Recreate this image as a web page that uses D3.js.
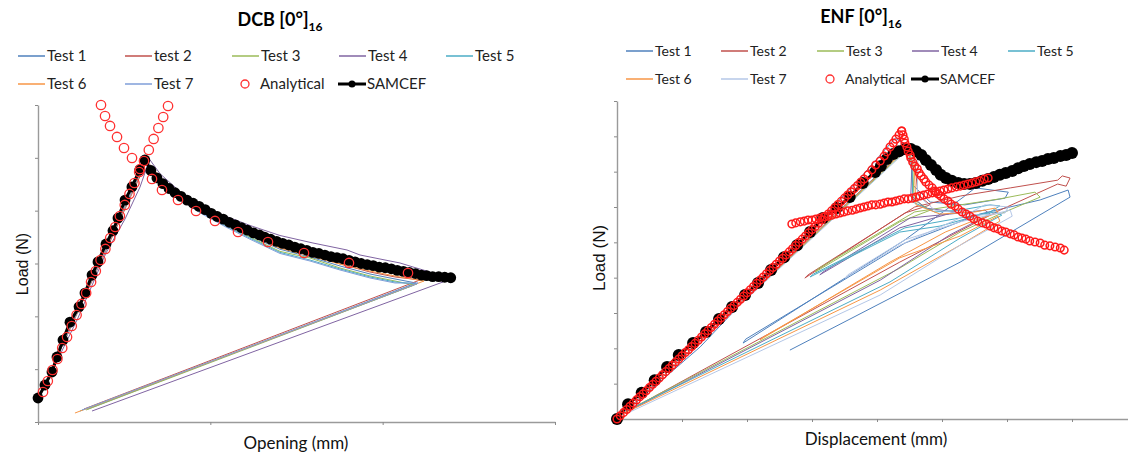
<!DOCTYPE html>
<html><head><meta charset="utf-8">
<script src="https://cdn.jsdelivr.net/npm/d3@7"></script>
<style>body{margin:0;background:#fff}svg{display:block}</style>
</head><body>
<svg id="c" width="1128" height="452"></svg>
<script>
// ---------------- DATA ----------------
const dcbLabels = ["Test 1","test 2","Test 3","Test 4","Test 5","Test 6","Test 7"];
const enfLabels = ["Test 1","Test 2","Test 3","Test 4","Test 5","Test 6","Test 7"];
const dcbXTicks = [0,20,40,60];
const dcbYTicks = [0,10,20,30,40,50,60];
const enfXTicks = [0,1,2,3,4,5,6,7,8];
const enfYTicks = [0,100,200,300,400,500,600,700,800,900];

// DCB: opening (mm), load (N)
const dcbTest1 = [[0,4.35],[12.53,49.59],[14.16,46.19],[16.48,42.6],[18.80,40.2],[21.70,37.6],[24.60,35.2],[28.08,32.7],[31.57,31.23],[35.05,29.53],[38.53,28.01],[41.43,27.07],[43.87,26.31],[5.80,2.46]];
const dcbTest2 = [[0,4.35],[12.65,49.40],[14.16,46.37],[16.48,42.8],[18.80,40.4],[21.70,37.8],[24.60,35.6],[28.08,33.1],[31.57,31.61],[35.05,29.91],[38.53,28.39],[41.43,27.45],[44.33,26.88],[5.34,2.46]];
const dcbTest3 = [[0,4.35],[12.42,49.21],[14.16,46.00],[16.48,42.4],[18.80,40.0],[21.70,37.4],[24.60,35.0],[28.08,32.3],[31.57,31.04],[35.05,29.15],[38.53,27.64],[41.43,26.69],[43.63,25.93],[5.57,2.27]];
const dcbTest4 = [[0,4.16],[4.64,19.69],[7.89,31.99],[10.10,38.42],[11.84,44.48],[12.77,48.84],[13.0,49.59],[14.16,47.0],[16.48,43.6],[18.80,41.3],[21.70,39.0],[24.60,37.2],[28.08,35.3],[31.91,33.88],[35.86,32.56],[37.37,31.61],[39.69,30.85],[42.01,30.10],[43.52,29.34],[45.49,28.39],[47.00,26.50],[6.27,2.08]];
const dcbTest5 = [[0,4.35],[12.53,49.40],[14.16,46.19],[16.48,42.4],[18.80,39.8],[21.70,37.2],[24.60,34.8],[28.08,32.1],[31.57,30.66],[35.05,28.96],[38.53,27.45],[41.43,26.50],[43.98,26.12],[4.87,2.08]];
const dcbTest6 = [[0,4.35],[12.53,49.40],[14.16,46.37],[16.48,42.6],[18.80,40.2],[21.70,37.8],[24.60,35.4],[28.08,32.9],[31.57,31.42],[35.05,29.91],[38.53,28.58],[42.01,27.45],[44.80,26.69],[4.29,1.70]];
const dcbTest7 = [[0,4.35],[12.53,49.59],[14.16,46.00],[16.48,42.2],[18.80,39.6],[21.70,37.0],[24.60,34.6],[28.08,31.9],[31.57,30.47],[35.05,28.77],[38.53,27.26],[41.43,26.31],[44.10,26.31],[5.11,2.27]];
const dcbTests = [dcbTest1,dcbTest2,dcbTest3,dcbTest4,dcbTest5,dcbTest6,dcbTest7];

const dcbAnalytical = [[0.58,5.68],[1.14,7.76],[1.69,9.84],[2.25,11.92],[2.81,14.01],[3.37,16.09],[3.92,18.17],[4.48,20.25],[5.04,22.34],[5.59,24.42],[6.16,26.50],[6.71,28.58],[7.26,30.66],[7.82,32.75],[8.38,34.83],[8.96,36.91],[9.50,38.99],[10.07,41.08],[10.62,43.16],[11.19,45.24],[11.74,47.32],[12.30,49.40],[12.86,51.49],[13.42,53.57],[13.97,55.65],[14.53,57.73],[15.09,59.81],
  [7.31,60.0],[7.78,57.92],[8.36,56.03],[9.17,53.95],[9.98,51.86],[10.91,49.97],[11.84,47.89],[13.23,46.0],[14.39,43.91],[16.25,42.02],[18.34,39.94],[20.54,38.05],[23.21,35.96],[26.69,34.07],[30.87,31.99],[36.09,30.10],[42.94,28.20]];

const dcbSamcef = [[0,4.54],[0.81,7.0],[1.62,9.46],[2.2,12.3],[2.9,15.5],[3.71,18.9],[4.76,21.8],[5.45,24.4],[6.27,27.8],[6.96,30.3],[7.89,33.7],[8.7,36.2],[9.28,38.6],[10.1,42.0],[10.9,44.5],[11.8,47.7],
  [12.4,49.6],[13.1,47.6],[13.8,46.2],[14.5,45.1],[15.2,44.2],[15.9,43.4],[16.6,42.7],[17.3,42.0],[18.0,41.4],[18.7,40.8],[19.4,40.2],[20.1,39.5],[20.8,38.9],[21.5,38.4],[22.2,37.8],[22.9,37.3],[23.6,36.8],[24.3,36.3],[25.0,35.8],[25.7,35.4],[26.3,35.0],[27.0,34.6],[27.7,34.2],[28.4,33.8],[29.1,33.5],[29.8,33.1],[30.5,32.8],[31.2,32.5],[31.9,32.1],[32.6,31.9],[33.3,31.6],[34.0,31.3],[34.7,31.1],[35.4,30.9],[36.1,30.6],[36.8,30.3],[37.5,30.0],[38.2,29.8],[38.9,29.6],[39.6,29.3],[40.3,29.2],[41.0,29.0],[41.7,28.7],[42.4,28.5],[43.1,28.3],[43.8,28.1],[44.5,27.8],[45.1,27.7],[45.8,27.5],[46.5,27.5],[47.2,27.4],[47.9,27.3]];

// ENF: displacement (mm), load (N)
const enfTest1 = [[0,0],[1.28,204],[3.74,682],[4.28,795],[4.51,767],[4.55,662],[4.82,614],[5.35,606],[5.97,625],[6.02,642],[5.51,654],[5.35,631],[4.43,507],[1.94,215],[1.98,226],[4.43,498],[5.58,580],[6.51,620],[6.94,648],[6.97,628],[5.28,444],[2.66,195]];
const enfTest2 = [[0,0],[4.48,770],[4.58,733],[4.63,634],[4.82,606],[4.43,583],[2.89,399],[2.94,408],[4.58,600],[5.28,631],[6.05,654],[6.78,676],[6.85,688],[6.97,682],[6.91,659],[6.78,665],[5.89,591],[4.35,444],[0.08,14]];
const enfTest3 = [[0,0],[4.45,761],[4.55,719],[4.57,620],[4.82,591],[4.35,558],[3.05,416],[3.09,425],[4.58,586],[5.28,606],[5.89,623],[6.43,642],[6.51,628],[5.89,580],[5.28,529],[4.35,427],[0.12,20]];
const enfTest4 = [[0,0],[4.43,764],[4.54,733],[4.52,634],[4.74,597],[5.20,586],[4.35,541],[3.12,408],[3.17,416],[4.51,569],[5.12,580],[5.66,591],[5.74,580],[5.12,521],[4.05,393],[0.20,25]];
const enfTest5 = [[0,0],[4.42,761],[4.54,710],[4.55,614],[4.89,586],[5.28,591],[5.74,606],[5.89,603],[5.74,586],[4.97,546],[4.35,529],[2.97,402],[3.02,410],[4.43,541],[5.28,569],[5.82,586],[5.92,577],[5.28,512],[4.20,388],[0.15,23]];
const enfTest6 = [[0,0],[4.46,767],[4.57,719],[4.60,606],[4.97,580],[5.51,586],[5.82,597],[5.86,583],[5.51,563],[5.05,529],[4.20,444],[2.20,224],[2.25,232],[4.35,456],[5.28,518],[5.86,574],[5.89,560],[5.28,492],[4.05,365],[0.12,17]];
const enfTest7 = [[0,0],[4.55,775],[4.63,756],[4.62,634],[4.89,591],[5.58,577],[5.97,583],[6.02,600],[5.66,606],[5.28,569],[4.35,492],[3.51,399],[3.55,408],[4.43,507],[5.28,558],[6.05,591],[6.08,574],[5.28,492],[4.05,351],[0.20,20]];
const enfTests = [enfTest1,enfTest2,enfTest3,enfTest4,enfTest5,enfTest6,enfTest7];

const enfAnalyticalLinear = [[0,0],[0.05,9],[0.1,18],[0.15,27],[0.2,36],[0.25,45],[0.3,54],[0.35,63],[0.4,71],[0.45,80],[0.5,89],[0.55,98],[0.6,107],[0.65,116],[0.7,125],[0.75,134],[0.8,143],[0.85,152],[0.9,161],[0.95,170],[1,179],[1.05,188],[1.1,196],[1.15,205],[1.2,214],[1.25,223],[1.3,232],[1.35,241],[1.4,250],[1.45,259],[1.5,268],[1.55,277],[1.6,286],[1.65,295],[1.7,304],[1.75,313],[1.8,321],[1.85,330],[1.9,339],[1.95,348],[2,357],[2.05,366],[2.1,375],[2.15,384],[2.2,393],[2.25,402],[2.3,411],[2.35,420],[2.4,429],[2.45,438],[2.5,447],[2.55,455],[2.6,464],[2.65,473],[2.7,482],[2.75,491],[2.8,500],[2.85,509],[2.9,518],[2.95,527],[3,536],[3.05,545],[3.1,554],[3.15,563],[3.2,572],[3.25,580],[3.3,589],[3.35,598],[3.4,607],[3.45,616],[3.5,625],[3.55,634],[3.6,643],[3.65,652],[3.7,661],[3.75,670],[3.8,679],[3.86,691],[3.92,705],[3.98,719],[4.05,730],[4.11,744],[4.15,756],[4.2,770],[4.25,781],[4.29,792],[4.34,804],[4.38,815]];
const enfAnalyticalDecay = [[4.38,815],[4.40,804],[4.42,792],[4.43,781],[4.46,770],[4.48,758],[4.51,747],[4.52,739],[4.55,727],[4.58,716],[4.62,708],[4.65,696],[4.68,688],[4.72,679],[4.75,671],[4.80,662],[4.85,654],[4.89,645],[4.94,637],[4.98,631],[5.03,623],[5.09,617],[5.14,608],[5.20,603],[5.25,594],[5.31,586],[5.37,580],[5.43,574],[5.49,566],[5.55,560],[5.62,555],[5.68,552],[5.74,546],[5.80,541],[5.86,538],[5.92,532],[5.98,529],[6.05,524],[6.11,521],[6.17,515],[6.23,512],[6.29,509],[6.35,504],[6.43,501],[6.51,498],[6.58,492],[6.66,490],[6.74,487],[6.82,484],[6.88,478]];
const enfAnalyticalLower = [[2.69,552],[2.75,555],[2.82,558],[2.88,560],[2.94,563],[3.00,563],[3.06,566],[3.12,569],[3.18,572],[3.25,574],[3.31,577],[3.37,580],[3.43,583],[3.49,586],[3.55,589],[3.62,591],[3.68,594],[3.74,597],[3.80,600],[3.86,603],[3.92,606],[3.98,606],[4.05,608],[4.11,611],[4.17,614],[4.23,614],[4.29,617],[4.35,620],[4.42,623],[4.48,623],[4.54,625],[4.60,628],[4.66,631],[4.72,634],[4.78,637],[4.85,640],[4.91,642],[4.97,645],[5.03,648],[5.09,651],[5.15,654],[5.22,657],[5.28,659],[5.34,662],[5.40,665],[5.46,668],[5.52,671],[5.58,674],[5.65,679],[5.71,682]];

const enfSamcef = [[0,0],[0.17,42],[0.38,74],[0.58,110],[0.77,147],[0.95,181],[1.17,215],[1.37,246],[1.57,283],[1.77,317],[1.97,351],[2.17,385],[2.37,422],[2.57,458],[2.77,492],[2.97,529],[3.17,569],[3.38,597],[3.58,628],[3.78,668],[3.97,699],[4.06,716],[4.15,736],[4.25,750],[4.34,758],[4.43,764],[4.52,764],[4.60,758],[4.68,747],[4.75,733],[4.83,719],[4.91,705],[4.98,691],[5.06,682],[5.15,674],[5.25,668],[5.34,665],[5.43,665],[5.52,668],[5.62,674],[5.71,679],[5.80,685],[5.89,691],[5.98,696],[6.08,702],[6.17,710],[6.26,716],[6.35,722],[6.45,727],[6.54,730],[6.63,736],[6.72,739],[6.82,744],[6.91,747],[7.00,753]];

// ---------------- STYLE ----------------
const dcbColors = ["#4F81BD","#C0504D","#9BBB59","#8064A2","#4BACC6","#F79646","#7F9ED8"];
const enfColors = ["#4F81BD","#C0504D","#9BBB59","#8064A2","#4BACC6","#F79646","#B4C7E7"];
const FONT = "Lato, 'Open Sans', sans-serif";

const svg = d3.select("#c");
svg.append("rect").attr("width",1128).attr("height",452).attr("fill","#fff");

const dcbX = d3.scaleLinear().domain([0,60]).range([38,555]);
const dcbY = d3.scaleLinear().domain([0,60]).range([422,105]);
const enfX = d3.scaleLinear().domain([0,8]).range([617,1137]);
const enfY = d3.scaleLinear().domain([0,900]).range([419,101]);

function axes(g,x,y,xt,yt){
  const ax = g.append("g").attr("transform",`translate(0,${y.range()[0]})`)
    .call(d3.axisBottom(x).tickValues(xt).tickSize(3).tickSizeOuter(0).tickFormat(""));
  const ay = g.append("g").attr("transform",`translate(${x.range()[0]},0)`)
    .call(d3.axisLeft(y).tickValues(yt).tickSize(3).tickSizeOuter(0).tickFormat(""));
  [ax,ay].forEach(a=>{
    a.select(".domain").attr("stroke","#9a9a9a").attr("stroke-width",1.4);
    a.selectAll(".tick line").attr("stroke","#8a8a8a");
  });
}
function line(g,x,y,data,color,w){
  g.append("path").datum(data)
    .attr("d",d3.line().x(d=>x(d[0])).y(d=>y(d[1])))
    .attr("fill","none").attr("stroke",color).attr("stroke-width",w)
    .attr("stroke-linejoin","round");
}
function markers(g,x,y,data,r,fill,stroke,sw){
  g.append("g").selectAll("circle").data(data).join("circle")
    .attr("cx",d=>x(d[0])).attr("cy",d=>y(d[1])).attr("r",r)
    .attr("fill",fill).attr("stroke",stroke).attr("stroke-width",sw);
}
function title(cx,y,main,sub){
  const t = svg.append("text").attr("x",cx).attr("y",y).attr("text-anchor","middle")
    .attr("font-family",FONT).attr("font-weight","bold").attr("font-size",18).attr("fill","#000");
  t.append("tspan").text(main);
  t.append("tspan").attr("dy",5).attr("font-size",12).text(sub);
}
function legend(cols,rows,labels,colors,fs,extraLab){
  labels.forEach((lab,i)=>{
    const cx = cols[i%5], cy = rows[Math.floor(i/5)];
    svg.append("line").attr("x1",cx).attr("x2",cx+27).attr("y1",cy).attr("y2",cy)
      .attr("stroke",colors[i]).attr("stroke-width",1.5);
    svg.append("text").attr("x",cx+29).attr("y",cy).attr("dy","0.36em")
      .attr("font-family",FONT).attr("font-size",fs).attr("fill","#222").text(lab);
  });
  let cx = cols[2], cy = rows[1];
  svg.append("circle").attr("cx",cx+13).attr("cy",cy).attr("r",4).attr("fill","none")
    .attr("stroke","#FF3030").attr("stroke-width",1.3);
  svg.append("text").attr("x",cx+28).attr("y",cy).attr("dy","0.36em")
    .attr("font-family",FONT).attr("font-size",fs).attr("fill","#222").text(extraLab[0]);
  cx = cols[3];
  svg.append("line").attr("x1",cx-1).attr("x2",cx+27).attr("y1",cy).attr("y2",cy)
    .attr("stroke","#000").attr("stroke-width",3);
  svg.append("circle").attr("cx",cx+13).attr("cy",cy).attr("r",3.5).attr("fill","#000");
  svg.append("text").attr("x",cx+28).attr("y",cy).attr("dy","0.36em")
    .attr("font-family",FONT).attr("font-size",fs).attr("fill","#222").text(extraLab[1]);
}

// ---------------- DCB ----------------
const gL = svg.append("g");
axes(gL,dcbX,dcbY,dcbXTicks,dcbYTicks);
dcbTests.forEach((d,i)=>line(gL,dcbX,dcbY,d,dcbColors[i],1));
line(gL,dcbX,dcbY,dcbSamcef,"#000",3);
markers(gL,dcbX,dcbY,dcbSamcef,5.4,"#000","none",0);
markers(gL,dcbX,dcbY,dcbAnalytical,4.7,"none","#FF3030",1.3);

title(280,26,"DCB [0°]","16");
legend([18,125,232,339,446],[56,84],dcbLabels,dcbColors,15,["Analytical","SAMCEF"]);
svg.append("text").attr("transform","translate(22,264) rotate(-90)")
  .attr("text-anchor","middle").attr("dy","0.35em")
  .attr("font-family","'Liberation Sans', Arial, sans-serif").attr("font-size",16).attr("fill","#111").text("Load (N)");
svg.append("text").attr("x",296).attr("y",449).attr("text-anchor","middle")
  .attr("font-family",FONT).attr("font-size",17).attr("fill","#111").text("Opening (mm)");

// ---------------- ENF ----------------
const gR = svg.append("g");
axes(gR,enfX,enfY,enfXTicks,enfYTicks);
enfTests.forEach((d,i)=>line(gR,enfX,enfY,d,enfColors[i],1));
line(gR,enfX,enfY,enfSamcef,"#000",3);
markers(gR,enfX,enfY,enfSamcef,6,"#000","none",0);
[enfAnalyticalLinear,enfAnalyticalDecay,enfAnalyticalLower].forEach(a=>
  markers(gR,enfX,enfY,a,3.8,"none","#FF1a1a",1.5));

title(861,23,"ENF [0°]","16");
legend([626,721,817,912,1008],[51,79],enfLabels,enfColors,14,["Analytical","SAMCEF"]);
svg.append("text").attr("transform","translate(599,258) rotate(-90)")
  .attr("text-anchor","middle").attr("dy","0.35em")
  .attr("font-family","'Liberation Sans', Arial, sans-serif").attr("font-size",17).attr("fill","#111").text("Load (N)");
svg.append("text").attr("x",876).attr("y",445).attr("text-anchor","middle")
  .attr("font-family",FONT).attr("font-size",17).attr("fill","#111").text("Displacement (mm)");
</script>
</body></html>
